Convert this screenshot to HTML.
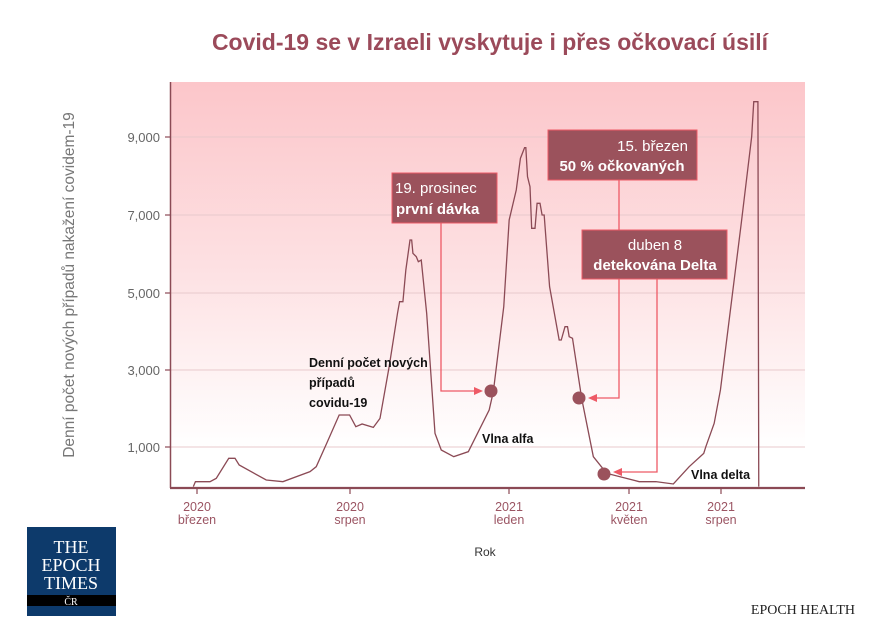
<!DOCTYPE html>
<html><head><meta charset="utf-8"><style>
body{margin:0;background:#fff;}
svg text{font-family:"Liberation Sans",sans-serif;}
</style></head><body>
<svg width="890" height="635" viewBox="0 0 890 635" xmlns="http://www.w3.org/2000/svg">
<defs><linearGradient id="bg" x1="0" y1="0" x2="0" y2="1">
<stop offset="0" stop-color="#fcc6ca"/><stop offset="0.45" stop-color="#fde0e2"/><stop offset="0.9" stop-color="#ffffff"/></linearGradient></defs>
<text x="490" y="50" text-anchor="middle" font-size="23" font-weight="bold" fill="#9b4a5a">Covid-19 se v Izraeli vyskytuje i přes očkovací úsilí</text>
<rect x="170" y="82" width="635" height="406" fill="url(#bg)"/>
<g stroke="#e8c9cc" stroke-width="1">
<line x1="170" y1="137" x2="805" y2="137"/><line x1="170" y1="215" x2="805" y2="215"/>
<line x1="170" y1="293" x2="805" y2="293"/><line x1="170" y1="370" x2="805" y2="370"/>
<line x1="170" y1="447" x2="805" y2="447"/></g>
<g fill="#666" font-size="13" text-anchor="end">
<text x="160" y="142">9,000</text><text x="160" y="220">7,000</text><text x="160" y="298">5,000</text><text x="160" y="375">3,000</text><text x="160" y="452">1,000</text></g>
<g stroke="#8b4a55" stroke-width="1.2">
<line x1="165" y1="137" x2="171" y2="137"/><line x1="165" y1="215" x2="171" y2="215"/><line x1="165" y1="293" x2="171" y2="293"/><line x1="165" y1="370" x2="171" y2="370"/><line x1="165" y1="447" x2="171" y2="447"/>
<line x1="197" y1="488" x2="197" y2="494"/><line x1="350" y1="488" x2="350" y2="494"/><line x1="509" y1="488" x2="509" y2="494"/><line x1="629" y1="488" x2="629" y2="494"/><line x1="721" y1="488" x2="721" y2="494"/></g>
<line x1="170.5" y1="82" x2="170.5" y2="488" stroke="#8b4a55" stroke-width="1.5"/>
<line x1="170" y1="488" x2="805" y2="488" stroke="#8b4a55" stroke-width="2.2"/>
<text transform="translate(74,285) rotate(-90)" text-anchor="middle" font-size="15.5" fill="#777">Denní počet nových případů nakažení covidem-19</text>
<g fill="#9b5563" font-size="12.5" text-anchor="middle">
<text x="197" y="511">2020</text><text x="197" y="524">březen</text>
<text x="350" y="511">2020</text><text x="350" y="524">srpen</text>
<text x="509" y="511">2021</text><text x="509" y="524">leden</text>
<text x="629" y="511">2021</text><text x="629" y="524">květen</text>
<text x="721" y="511">2021</text><text x="721" y="524">srpen</text></g>
<text x="485" y="556" text-anchor="middle" font-size="12" fill="#333">Rok</text>
<g transform="translate(160,80) scale(0.41667,0.33333)">
<polyline fill="none" stroke="#8b4a55" stroke-width="1.3" vector-effect="non-scaling-stroke" points="80,1220 85,1205 120,1205 135,1195 165,1135 180,1135 190,1155 255,1200 295,1205 360,1175 375,1160 400,1090 430,1005 455,1005 470,1040 485,1032 512,1042 528,1015 550,860 570,700 575,665 583,665 590,570 600,480 604,480 607,520 615,530 620,545 627,540 640,700 660,1060 675,1110 705,1130 740,1115 790,990 800,935 825,680 838,420 855,330 865,235 875,203 878,203 882,290 888,320 892,445 900,445 905,370 912,370 917,405 922,405 935,620 958,780 963,780 972,740 978,740 982,770 990,775 1012,955 1040,1130 1072,1180 1150,1205 1190,1205 1232,1212 1270,1160 1305,1120 1310,1100 1330,1030 1345,930 1395,430 1420,170 1425,65 1435,65 1437,1220"/>
</g>
<g stroke="#ee5a66" stroke-width="1.3" fill="none">
<polyline points="441,222 441,391 476,391"/><polyline points="619,180 619,398 596,398"/><polyline points="657,279 657,472 622,472"/></g>
<g fill="#ee5a66"><polygon points="483,391 474,387 474,395"/><polygon points="588,398 597,394 597,402"/><polygon points="613,472 622,468 622,476"/></g>
<g fill="#9b525c"><circle cx="491" cy="391" r="6.5"/><circle cx="579" cy="398" r="6.5"/><circle cx="604" cy="474" r="6.5"/></g>
<g fill="#9b525c" stroke="#ee5a66" stroke-width="1">
<rect x="392" y="173" width="105" height="50"/><rect x="548" y="130" width="149" height="50"/><rect x="582" y="230" width="145" height="49"/></g>
<g fill="#fff" font-size="15">
<text x="395" y="193">19. prosinec</text><text x="396" y="214" font-weight="bold">první dávka</text>
<text x="688" y="151" text-anchor="end">15. březen</text><text x="622" y="171" font-weight="bold" text-anchor="middle">50 % očkovaných</text>
<text x="655" y="250" text-anchor="middle">duben 8</text><text x="655" y="270" text-anchor="middle" font-weight="bold">detekována Delta</text></g>
<g fill="#111" font-size="12.5" font-weight="bold">
<text x="309" y="367">Denní počet nových</text><text x="309" y="387">případů</text><text x="309" y="407">covidu-19</text>
<text x="482" y="443">Vlna alfa</text><text x="691" y="479">Vlna delta</text></g>
<rect x="27" y="527" width="89" height="89" fill="#0d3a6b"/>
<rect x="27" y="595" width="89" height="11" fill="#000"/>
<g fill="#fff" font-size="18" text-anchor="middle">
<text x="71" y="553" style="font-family:'Liberation Serif',serif">THE</text><text x="71" y="571" style="font-family:'Liberation Serif',serif">EPOCH</text><text x="71" y="589" style="font-family:'Liberation Serif',serif">TIMES</text>
<text x="71" y="605" font-size="10" style="font-family:'Liberation Serif',serif">ČR</text></g>
<text x="855" y="614" text-anchor="end" font-size="14" fill="#222" style="font-family:'Liberation Serif',serif">EPOCH HEALTH</text>
</svg>
</body></html>
